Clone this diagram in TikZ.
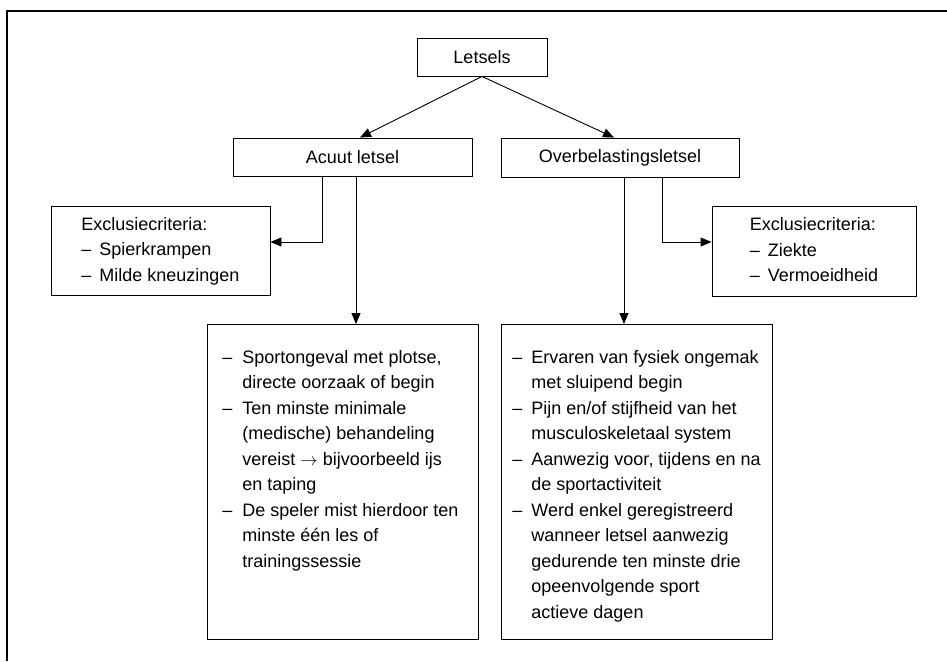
\documentclass[tikz,border=0pt]{standalone}
\usepackage{fontspec}
\setmainfont{Liberation Sans}
\usetikzlibrary{arrows.meta}

\begin{document}
\begin{tikzpicture}[x=1pt,y=-1pt,
    font=\fontsize{18}{25.5}\selectfont,
    blok/.style={draw, line width=0.9pt, inner sep=0pt},
    pijl/.style={line width=0.9pt, -{Triangle[length=11pt,width=9pt]}}]
  \useasboundingbox (0,0) rectangle (947,661);
  \draw[line width=1.3pt] (7,661) -- (7,11) -- (947,11);

  \node [blok, minimum width=130pt, minimum height=38pt] (letsels) at (482,57) {Letsels};
  \node [blok, minimum width=239pt, minimum height=38pt] (acuut) at (352.5,157) {Acuut letsel};
  \node [blok, minimum width=238pt, minimum height=39pt] (overbel) at (620,157.5) {Overbelastingsletsel};

  \node [blok, minimum width=219pt, minimum height=89pt] (exclacuut) at (160.5,250.5)
    {\begin{tabular}{@{}l@{}}Exclusiecriteria:\\ \makebox[18pt][l]{–}Spierkrampen\\ \makebox[18pt][l]{–}Milde kneuzingen\end{tabular}};
  \node [blok, minimum width=204pt, minimum height=90pt] (exclover) at (814,251)
    {\begin{tabular}{@{}l@{}}Exclusiecriteria:\\ \makebox[18pt][l]{–}Ziekte\\ \makebox[18pt][l]{–}Vermoeidheid\end{tabular}};

  \node [blok, anchor=north west] (acuutlijst) at (207,324)
    {\parbox[t][315pt][t]{271pt}{\vspace{21pt}\noindent\hspace*{15pt}%
     \begin{tabular}[t]{@{}p{20pt}@{}l@{}}
      – & Sportongeval met plotse,\\
        & directe oorzaak of begin\\
      – & Ten minste minimale\\
        & (medische) behandeling\\
        & vereist $\rightarrow$ bijvoorbeeld ijs\\
        & en taping\\
      – & De speler mist hierdoor ten\\
        & minste één les of\\
        & trainingssessie
     \end{tabular}}};
  \node [blok, anchor=north west] (overlijst) at (501,324)
    {\parbox[t][315pt][t]{271pt}{\vspace{21pt}\noindent\hspace*{11pt}%
     \begin{tabular}[t]{@{}p{19pt}@{}l@{}}
      – & Ervaren van fysiek ongemak\\
        & met sluipend begin\\
      – & Pijn en/of stijfheid van het\\
        & musculoskeletaal system\\
      – & Aanwezig voor, tijdens en na\\
        & de sportactiviteit\\
      – & Werd enkel geregistreerd\\
        & wanneer letsel aanwezig\\
        & gedurende ten minste drie\\
        & opeenvolgende sport\\
        & actieve dagen
     \end{tabular}}};

  \draw[pijl] (letsels.south) -- ([xshift=7.5pt]acuut.north);
  \draw[pijl] (letsels.south) -- ([xshift=-6pt]overbel.north);

  \draw[pijl] ([xshift=-30.5pt]acuut.south) |- ([yshift=8.5pt]exclacuut.east);
  \draw[pijl] ([xshift=3.5pt]acuut.south) -- ([xshift=3.5pt]acuut.south |- acuutlijst.north);
  \draw[pijl] ([xshift=42pt]overbel.south) |- ([yshift=9pt]exclover.west);
  \draw[pijl] ([xshift=4pt]overbel.south) -- ([xshift=4pt]overbel.south |- overlijst.north);
\end{tikzpicture}
\end{document}
